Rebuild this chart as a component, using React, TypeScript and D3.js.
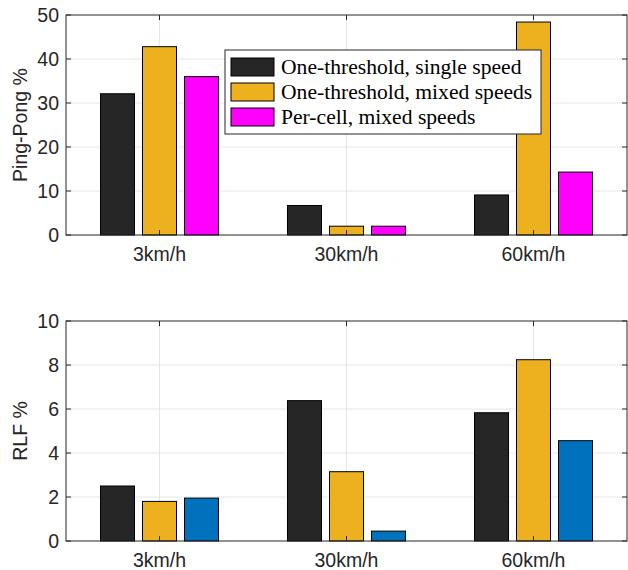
import React, { useRef, useEffect } from "react";
import * as d3 from "d3";

const categories = ["3km/h", "30km/h", "60km/h"];
const pingPongSeries = ["One-threshold, single speed", "One-threshold, mixed speeds", "Per-cell, mixed speeds"];
const pingPongValues = [
  [32.1, 42.8, 36.0],
  [6.7, 2.0, 2.0],
  [9.1, 48.4, 14.3],
];
const rlfValues = [
  [2.5, 1.8, 1.95],
  [6.38, 3.15, 0.45],
  [5.83, 8.24, 4.56],
];
const pingPongTicks = [0, 10, 20, 30, 40, 50];
const rlfTicks = [0, 2, 4, 6, 8, 10];
const topColors = ["#262626", "#EDB120", "#FF00FF"];
const bottomColors = ["#262626", "#EDB120", "#0072BD"];

const App = () => {
  const svgRef = useRef<SVGSVGElement>(null);

  useEffect(() => {
    const svg = d3.select(svgRef.current);
    svg.selectAll("*").remove();

    const left = 66;
    const right = 627;
    const axisColor = "#262626";
    const tickFont = "'Liberation Sans', Arial, sans-serif";

    const drawPanel = (top: number, bottom: number, values: number[][], ticks: number[], colors: string[], label: string) => {
      const g = svg.append("g");
      const x = d3.scaleLinear().domain([0.5, 3.5]).range([left, right]);
      const y = d3.scaleLinear().domain([ticks[0], ticks[ticks.length - 1]]).range([bottom, top]);

      // grid
      g.selectAll(".hg")
        .data(ticks.slice(1, -1))
        .enter()
        .append("line")
        .attr("x1", left)
        .attr("x2", right)
        .attr("y1", (d) => y(d))
        .attr("y2", (d) => y(d))
        .attr("stroke", "#e6e6e6");
      g.selectAll(".vg")
        .data(categories)
        .enter()
        .append("line")
        .attr("x1", (_, i) => x(i + 1))
        .attr("x2", (_, i) => x(i + 1))
        .attr("y1", top)
        .attr("y2", bottom)
        .attr("stroke", "#e6e6e6");

      // bars
      const barW = 34;
      const step = 42;
      values.forEach((row, ci) => {
        row.forEach((v, si) => {
          const cx = x(ci + 1) + (si - 1) * step;
          g.append("rect")
            .attr("x", cx - barW / 2)
            .attr("y", y(v))
            .attr("width", barW)
            .attr("height", bottom - y(v))
            .attr("fill", colors[si])
            .attr("stroke", "#000")
            .attr("stroke-width", 1);
        });
      });

      // box
      g.append("rect")
        .attr("x", left)
        .attr("y", top)
        .attr("width", right - left)
        .attr("height", bottom - top)
        .attr("fill", "none")
        .attr("stroke", axisColor)
        .attr("stroke-width", 1);

      // y ticks
      ticks.forEach((t) => {
        g.append("line").attr("x1", left).attr("x2", left + 5).attr("y1", y(t)).attr("y2", y(t)).attr("stroke", axisColor);
        g.append("line").attr("x1", right - 5).attr("x2", right).attr("y1", y(t)).attr("y2", y(t)).attr("stroke", axisColor);
        g.append("text")
          .attr("x", left - 7)
          .attr("y", y(t))
          .attr("dy", "0.36em")
          .attr("text-anchor", "end")
          .style("font-family", tickFont)
          .style("font-size", "19.5px")
          .attr("fill", axisColor)
          .text(t);
      });

      // x ticks
      categories.forEach((c, i) => {
        g.append("line").attr("x1", x(i + 1)).attr("x2", x(i + 1)).attr("y1", bottom).attr("y2", bottom - 5).attr("stroke", axisColor);
        g.append("line").attr("x1", x(i + 1)).attr("x2", x(i + 1)).attr("y1", top).attr("y2", top + 5).attr("stroke", axisColor);
        g.append("text")
          .attr("x", x(i + 1))
          .attr("y", bottom + 19)
          .attr("dy", "0.36em")
          .attr("text-anchor", "middle")
          .style("font-family", tickFont)
          .style("font-size", "19.5px")
          .attr("fill", axisColor)
          .text(c);
      });

      // y label
      g.append("text")
        .attr("transform", `translate(27,${(top + bottom) / 2}) rotate(-90)`)
        .attr("text-anchor", "middle")
        .style("font-family", tickFont)
        .style("font-size", "19.5px")
        .attr("fill", axisColor)
        .text(label);

      return g;
    };

    drawPanel(15, 235, pingPongValues, pingPongTicks, topColors, "Ping-Pong %");
    drawPanel(321, 541, rlfValues, rlfTicks, bottomColors, "RLF %");

    // legend
    const lg = svg.append("g").attr("transform", "translate(225,50)");
    lg.append("rect")
      .attr("width", 316)
      .attr("height", 84)
      .attr("fill", "#fff")
      .attr("stroke", "#262626")
      .attr("stroke-width", 1);
    pingPongSeries.forEach((s, i) => {
      const ry = 17 + i * 25;
      lg.append("rect")
        .attr("x", 6)
        .attr("y", ry - 9)
        .attr("width", 43)
        .attr("height", 18)
        .attr("fill", topColors[i])
        .attr("stroke", "#000");
      lg.append("text")
        .attr("x", 56)
        .attr("y", ry)
        .attr("dy", "0.33em")
        .style("font-family", "'Liberation Serif', 'DejaVu Serif', serif")
        .style("font-size", "21.6px")
        .attr("fill", "#000")
        .text(s);
    });
  }, []);

  return (
    <svg
      ref={svgRef}
      width={628}
      height={570}
      style={{ display: "block", position: "absolute", left: 0, top: 0 }}
    ></svg>
  );
};

export default App;
